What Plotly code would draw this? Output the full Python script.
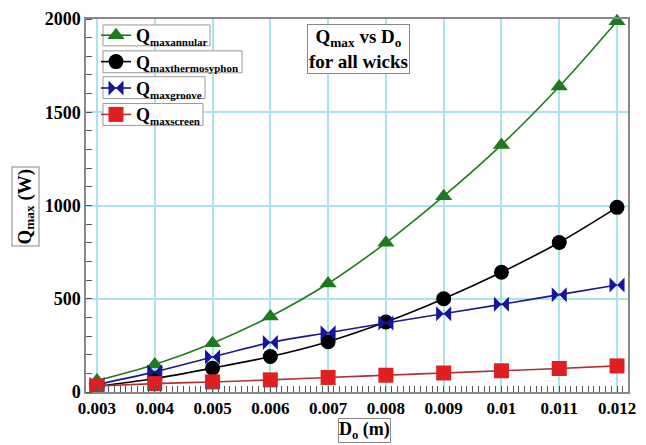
import plotly.graph_objects as go

D_o = [0.003, 0.004, 0.005, 0.006, 0.007, 0.008, 0.009, 0.010, 0.011, 0.012]
q_annular = [62, 148, 262, 405, 582, 800, 1050, 1325, 1638, 1988]
q_thermo = [30, 72, 128, 190, 270, 375, 500, 642, 802, 990]
q_groove = [40, 108, 188, 265, 318, 370, 420, 470, 522, 574]
q_screen = [32, 45, 54, 65, 78, 90, 102, 114, 126, 140]

x_ticks = [0.003, 0.004, 0.005, 0.006, 0.007, 0.008, 0.009, 0.01, 0.011, 0.012]
x_ticktext = ["0.003", "0.004", "0.005", "0.006", "0.007", "0.008", "0.009", "0.01", "0.011", "0.012"]
y_ticks = [0, 500, 1000, 1500, 2000]

FONT = "Liberation Serif, Times New Roman, serif"
SUB = '<span style="font-size:11px">{}</span>'

series = [
    ("maxannular", q_annular, "#1e7a1e", "#1e7a1e", "triangle-up"),
    ("maxthermosyphon", q_thermo, "#000000", "#000000", "circle"),
    ("maxgroove", q_groove, "#1a1a8c", "#1414a0", "bowtie"),
    ("maxscreen", q_screen, "#b03030", "#e02020", "square"),
]

# page offset of the figure (body margin) and plot-area geometry in page pixels
OFF = 8
L, R, T, B = 86, 628, 17, 392
FW, FH = 646 - OFF, 445 - OFF
W, H = R - L, B - T
def px(x):
    return (x - L) / W
def py(y):
    return (B - y) / H

fig = go.Figure()
for i, (sub, ys, lc, mc, sym) in enumerate(series):
    fig.add_trace(go.Scatter(
        x=D_o, y=ys, name="<b>Q<sub>" + SUB.format(sub) + "</sub></b>", mode="lines+markers",
        line=dict(color=lc, width=1.6, shape="spline"),
        marker=dict(symbol=sym, size=15, color=mc, line=dict(width=0)),
        legendgroup=f"g{i}", cliponaxis=False, showlegend=True,
    ))

fig.update_layout(
    width=FW, height=FH,
    margin=dict(l=L - OFF, r=FW - (R - OFF), t=T - OFF, b=FH - (B - OFF)),
    paper_bgcolor="white", plot_bgcolor="white",
    font=dict(family=FONT, color="black"),
    showlegend=True,
    legend=dict(bgcolor="rgba(0,0,0,0)", borderwidth=0,
                font=dict(family=FONT, size=18, color="black"),
                x=px(96), y=py(15),
                xanchor="left", yanchor="top", itemwidth=30,
                tracegroupgap=0),
)

# boxes around legend entries (page pixels)
boxes = [(103, 23, 210, 44), (103, 49, 242, 71), (103, 75, 205, 97), (103, 102, 203, 124)]
for x0, y0, x1, y1 in boxes:
    fig.add_shape(type="rect", xref="paper", yref="paper",
                  x0=px(x0), x1=px(x1), y0=py(y1), y1=py(y0),
                  line=dict(color="#999999", width=1), fillcolor="white", layer="above")

fig.update_xaxes(
    range=[0.00281, 0.01219], tickvals=x_ticks, ticktext=x_ticktext, automargin=False,
    tickfont=dict(family=FONT, size=17, color="black", weight="bold"),
    showgrid=True, gridcolor="#a8e4ec", gridwidth=1.5,
    showline=True, linecolor="#888888", linewidth=1.5, mirror=True,
    ticks="", zeroline=False,
    minor=dict(dtick=0.0001, tick0=0.003, ticks="inside", ticklen=6, tickcolor="#555555", showgrid=False),
)
fig.update_yaxes(
    range=[0, 2000], tickvals=y_ticks, automargin=False,
    tickfont=dict(family=FONT, size=18, color="black", weight="bold"),
    showgrid=True, gridcolor="#a8e4ec", gridwidth=1.5,
    showline=True, linecolor="#888888", linewidth=1.5, mirror=True,
    ticks="", zeroline=False,
    minor=dict(dtick=100, ticks="inside", ticklen=6, tickcolor="#555555", showgrid=False),
)

fig.add_annotation(
    text="<b>Q<sub>max</sub> vs D<sub>o</sub><br>for all wicks</b>",
    xref="paper", yref="paper", x=px(358), y=py(47),
    xanchor="center", yanchor="middle",
    showarrow=False, font=dict(family=FONT, size=19, color="black"),
    bordercolor="#888888", borderwidth=1, bgcolor="white", borderpad=1,
)
fig.add_annotation(
    text="<b>Q<sub>max</sub> (W)</b>", textangle=-90,
    xref="paper", yref="paper", x=px(25.5), y=py(206),
    xanchor="center", yanchor="middle",
    showarrow=False, font=dict(family=FONT, size=19, color="black"),
    bordercolor="#888888", borderwidth=1, borderpad=1,
)
fig.add_annotation(
    text="<b>D<sub>o</sub> (m)</b>",
    xref="paper", yref="paper", x=px(364), y=py(431),
    xanchor="center", yanchor="middle",
    showarrow=False, font=dict(family=FONT, size=18, color="black"),
    bordercolor="#888888", borderwidth=1, borderpad=0,
)

fig.write_html("out.html")
